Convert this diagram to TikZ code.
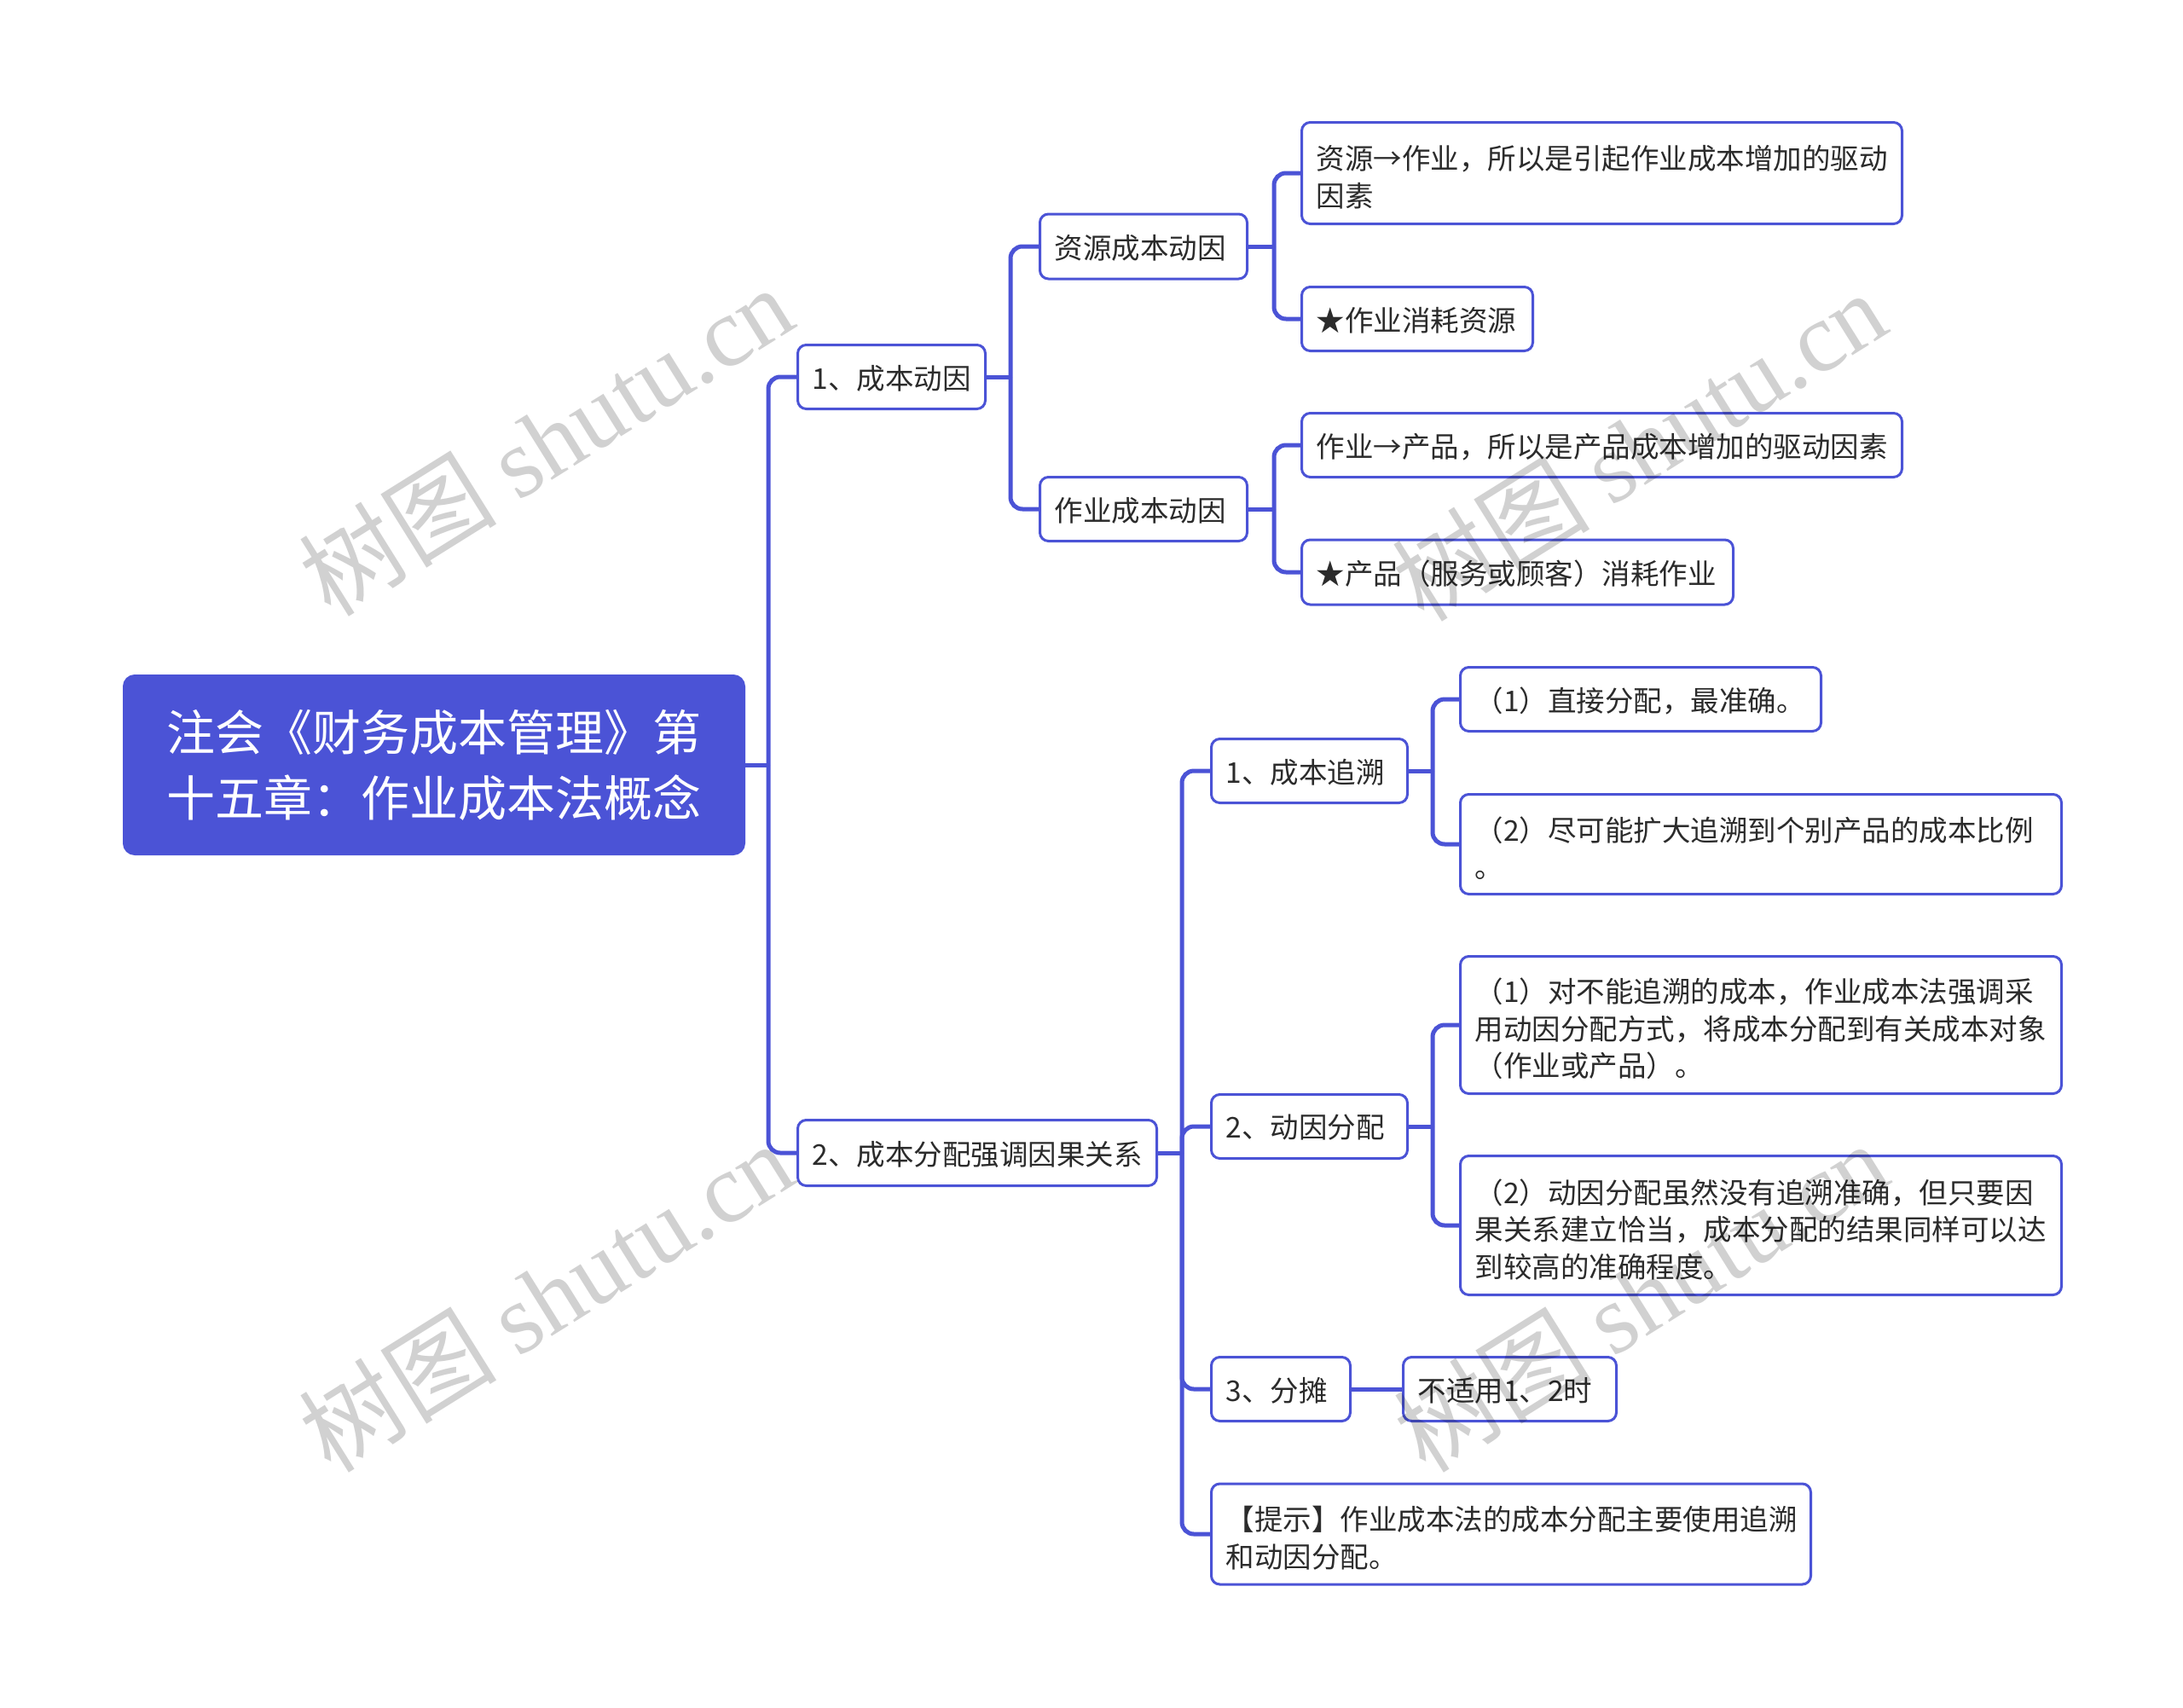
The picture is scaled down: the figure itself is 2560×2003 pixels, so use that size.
\documentclass[tikz,border=0pt]{standalone}
\usepackage{fontspec}
\newfontfamily\cjk{Noto Sans CJK SC}
\newfontfamily\wmlatin{Liberation Serif}
\definecolor{mblue}{HTML}{4B53D6}
\definecolor{txt}{HTML}{2B2B2B}
\tikzset{
  leaf/.style={draw=mblue, line width=3pt, rounded corners=10pt, fill=white, anchor=west,
    inner xsep=17pt, inner ysep=0pt, align=left, text=txt,
    execute at end node={\vspace*{-9pt}},
    font=\cjk\fontsize{33.5}{43.5}\selectfont},
  rootbox/.style={fill=mblue, draw=mblue, line width=2pt, rounded corners=13pt, anchor=west,
    inner xsep=0pt, inner ysep=0pt, align=center, text=white,
    font=\cjk\fontsize{57}{77}\selectfont},
  conn/.style={draw=mblue, line width=5pt, rounded corners=14pt},
  wm/.style={text=black, text opacity=0.18, font=\cjk\fontsize{116}{116}\selectfont, inner sep=0pt}
}
\begin{document}
\begin{tikzpicture}[x=1pt,y=-1pt]
\useasboundingbox (0,0) rectangle (2560,2003);
% root
\node[rootbox, minimum width=728pt, minimum height=210pt] (root) at (144,897)
  {注会《财务成本管理》第\\十五章：作业成本法概念};
% level 1
\node[leaf, text width=186pt, minimum height=75pt] (a) at (934,442) {1、成本动因};
\node[leaf, text width=387pt, minimum height=77pt] (b) at (934,1352) {2、成本分配强调因果关系};
% level 2 under a
\node[leaf, text width=209pt, minimum height=76pt] (a1) at (1218,289) {资源成本动因};
\node[leaf, text width=209pt, minimum height=75pt] (a2) at (1218,597) {作业成本动因};
% level 3 under a1, a2
\node[leaf, text width=670pt, minimum height=119pt] (a11) at (1525,203)
  {资源→作业，所以是引起作业成本增加的驱动\\因素};
\node[leaf, text width=237pt, minimum height=75pt] (a12) at (1525,374) {★作业消耗资源};
\node[leaf, text width=670pt, minimum height=75pt] (a21) at (1525,522)
  {作业→产品，所以是产品成本增加的驱动因素};
\node[leaf, text width=472pt, minimum height=76pt] (a22) at (1525,671)
  {★产品（服务或顾客）消耗作业};
% level 2 under b
\node[leaf, text width=196pt, minimum height=75pt] (b1) at (1419,904) {1、成本追溯};
\node[leaf, text width=196pt, minimum height=75pt] (b2) at (1419,1321) {2、动因分配};
\node[leaf, text width=129pt, minimum height=75pt] (b3) at (1419,1629) {3、分摊};
\node[leaf, text width=669pt, minimum height=118pt] (b4) at (1419,1799)
  {【提示】作业成本法的成本分配主要使用追溯\\和动因分配。};
% level 3 under b1, b2, b3
\node[leaf, text width=389pt, minimum height=75pt] (b11) at (1711,820) {（1）直接分配，最准确。};
\node[leaf, text width=671pt, minimum height=117pt] (b12) at (1711,990)
  {（2）尽可能扩大追溯到个别产品的成本比例\\。};
\node[leaf, text width=671pt, minimum height=161pt] (b21) at (1711,1202)
  {（1）对不能追溯的成本，作业成本法强调采\\用动因分配方式，将成本分配到有关成本对象\\（作业或产品）。};
\node[leaf, text width=671pt, minimum height=163pt] (b22) at (1711,1437)
  {（2）动因分配虽然没有追溯准确，但只要因\\果关系建立恰当，成本分配的结果同样可以达\\到较高的准确程度。};
\node[leaf, text width=216pt, minimum height=75pt] (b31) at (1644,1629) {不适用1、2时};

% trunk coordinates
\coordinate (t0) at (901,0);
\coordinate (ta) at (1185,0);
\coordinate (ta1) at (1494,0);
\coordinate (tb) at (1386,0);
\coordinate (tb1) at (1680,0);

% connectors
\draw[conn] (root.east) -- (root.east -| t0);
\draw[conn] (root.east -| t0) |- (a.west);
\draw[conn] (root.east -| t0) |- (b.west);

\draw[conn] (a.east) -- (a.east -| ta);
\draw[conn] (a.east -| ta) |- (a1.west);
\draw[conn] (a.east -| ta) |- (a2.west);

\draw[conn] (a1.east) -- (a1.east -| ta1);
\draw[conn] (a1.east -| ta1) |- (a11.west);
\draw[conn] (a1.east -| ta1) |- (a12.west);

\draw[conn] (a2.east) -- (a2.east -| ta1);
\draw[conn] (a2.east -| ta1) |- (a21.west);
\draw[conn] (a2.east -| ta1) |- (a22.west);

\draw[conn] (b.east) -- (b.east -| tb);
\draw[conn] (b.east -| tb) |- (b1.west);
\draw[conn] (b.east -| tb) |- (b2.west);
\draw[conn] (b.east -| tb) |- (b3.west);
\draw[conn] (b.east -| tb) |- (b4.west);

\draw[conn] (b1.east) -- (b1.east -| tb1);
\draw[conn] (b1.east -| tb1) |- (b11.west);
\draw[conn] (b1.east -| tb1) |- (b12.west);

\draw[conn] (b2.east) -- (b2.east -| tb1);
\draw[conn] (b2.east -| tb1) |- (b21.west);
\draw[conn] (b2.east -| tb1) |- (b22.west);

\draw[conn] (b3.east) -- (b31.west);

% watermarks
\node[wm, rotate=32] (wm1) at (640,516) {树图 {\wmlatin shutu.cn}};
\node[wm, rotate=32] (wm2) at (1922,522) {树图 {\wmlatin shutu.cn}};
\node[wm, rotate=32] (wm3) at (640,1520) {树图 {\wmlatin shutu.cn}};
\node[wm, rotate=32] (wm4) at (1924,1520) {树图 {\wmlatin shutu.cn}};
\end{tikzpicture}
\end{document}
